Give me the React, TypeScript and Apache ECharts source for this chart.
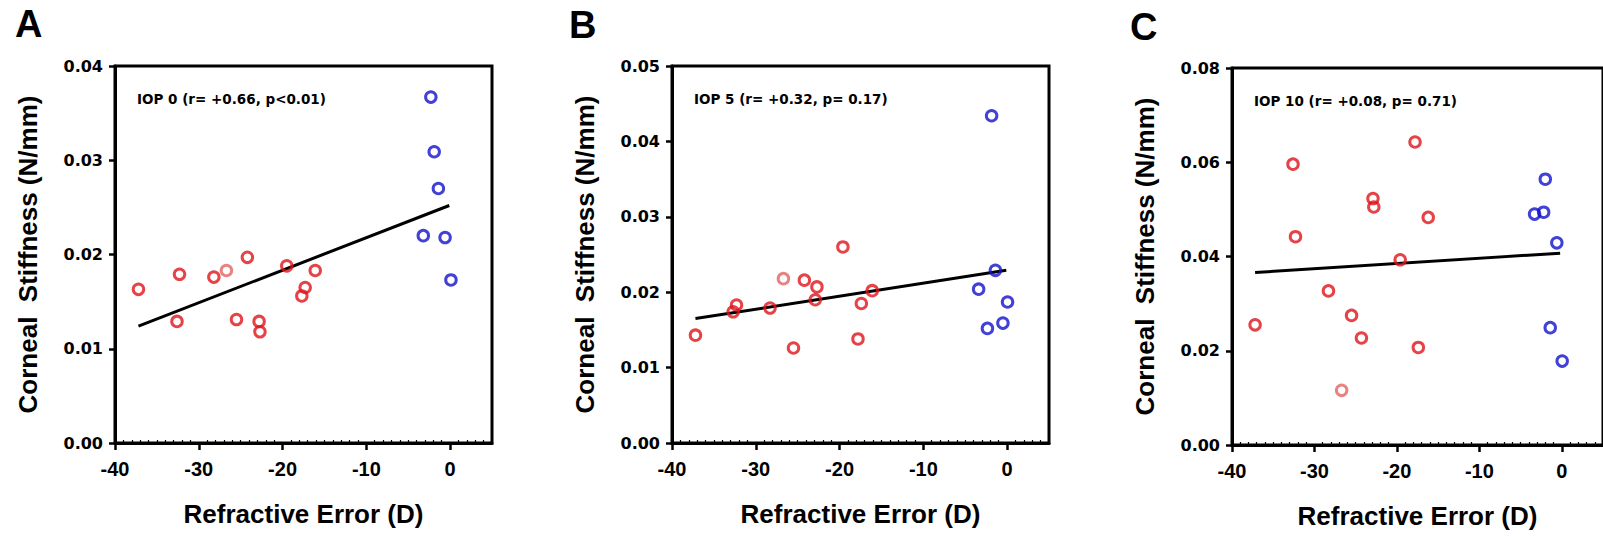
import React, { useEffect, useRef } from "react";
import * as echarts from "echarts";

// ---------- data ----------
const xTickValues = [-40, -30, -20, -10, 0];

// Panel A (IOP 0)
const aRedX = [-37.2, -32.3, -32.6, -28.2, -25.5, -24.2, -22.8, -22.7, -19.5, -17.3, -17.7, -16.1];
const aRedY = [0.0163, 0.0179, 0.0129, 0.0176, 0.0131, 0.0197, 0.0129, 0.0118, 0.0188, 0.0165, 0.0156, 0.0183];
const aLightX = [-26.7];
const aLightY = [0.0183];
const aBlueX = [-2.3, -1.9, -1.4, -3.2, -0.6, 0.1];
const aBlueY = [0.0367, 0.0309, 0.027, 0.022, 0.0218, 0.0173];
const aTrendX = [-37.2, -0.1];
const aTrendY = [0.0124, 0.0252];

// Panel B (IOP 5)
const bRedX = [-37.2, -32.3, -32.7, -28.3, -25.5, -24.2, -22.7, -22.9, -19.6, -17.4, -17.8, -16.1];
const bRedY = [0.0143, 0.0183, 0.0174, 0.0179, 0.0126, 0.0216, 0.0207, 0.019, 0.026, 0.0185, 0.0138, 0.0202];
const bLightX = [-26.7];
const bLightY = [0.0218];
const bBlueX = [-1.85, -1.4, -3.4, 0.05, -0.5, -2.35];
const bBlueY = [0.0434, 0.0229, 0.0204, 0.0187, 0.0159, 0.0152];
const bTrendX = [-37.2, -0.1];
const bTrendY = [0.0165, 0.0229];

// Panel C (IOP 10)
const cRedX = [-37.2, -32.6, -32.3, -28.3, -25.5, -24.3, -22.9, -22.8, -19.6, -17.8, -17.4, -16.2];
const cRedY = [0.0255, 0.0596, 0.0442, 0.0327, 0.0275, 0.0227, 0.0523, 0.0505, 0.0393, 0.0643, 0.0207, 0.0483];
const cLightX = [-26.7];
const cLightY = [0.0116];
const cBlueX = [-2.0, -3.3, -2.2, -0.6, -1.4, 0.05];
const cBlueY = [0.0564, 0.049, 0.0494, 0.0429, 0.0249, 0.0178];
const cTrendX = [-37.2, -0.2];
const cTrendY = [0.0366, 0.0407];

const panelLetters = ["A", "B", "C"];
const annotations = [
  "IOP 0 (r= +0.66, p<0.01)",
  "IOP 5 (r= +0.32, p= 0.17)",
  "IOP 10 (r= +0.08, p= 0.71)",
];
const yMaxes = [0.04, 0.05, 0.08];
const yIntervals = [0.01, 0.01, 0.02];
const xTitle = "Refractive Error (D)";
const yTitle = "Corneal  Stiffness (N/mm)";

// ---------- layout / style ----------
const gridPos = [
  { left: 115, top: 66 },
  { left: 672, top: 66 },
  { left: 1232, top: 68 },
];
const BOX = 377;
const RED = "#e0141c";
const LIGHT = "#e26464";
const BLUE = "#1212cc";
const F_NARROW = "'Liberation Sans', Arial, sans-serif";
const F_WIDE = "'DejaVu Sans', sans-serif";

const zip = (xs: number[], ys: number[]) => xs.map((x, i) => [x, ys[i]]);

const panelData = [
  { red: zip(aRedX, aRedY), light: zip(aLightX, aLightY), blue: zip(aBlueX, aBlueY), trend: zip(aTrendX, aTrendY) },
  { red: zip(bRedX, bRedY), light: zip(bLightX, bLightY), blue: zip(bBlueX, bBlueY), trend: zip(bTrendX, bTrendY) },
  { red: zip(cRedX, cRedY), light: zip(cLightX, cLightY), blue: zip(cBlueX, cBlueY), trend: zip(cTrendX, cTrendY) },
];

function ring(color: string) {
  return {
    symbol: "circle",
    symbolSize: 10.5,
    itemStyle: { color: "rgba(0,0,0,0)", borderColor: color, borderWidth: 3 },
  };
}

export default function App() {
  const ref = useRef<HTMLDivElement>(null);
  useEffect(() => {
    const chart = echarts.init(ref.current!, null, { renderer: "svg" });
    const grids = gridPos.map((g) => ({
      left: g.left,
      top: g.top,
      width: BOX,
      height: BOX,
      show: true,
      borderColor: "#000",
      borderWidth: 3,
      backgroundColor: "rgba(0,0,0,0)",
      containLabel: false,
    }));
    const xAxes = gridPos.map((_, i) => ({
      type: "value",
      gridIndex: i,
      min: -40,
      max: 5,
      interval: 10,
      position: "bottom",
      axisLine: { show: true, onZero: false, lineStyle: { color: "#000", width: 3 } },
      axisTick: { show: true, length: 7, customValues: xTickValues, lineStyle: { color: "#000", width: 2.5 } },
      minorTick: { show: true, splitNumber: 10, length: -3, lineStyle: { color: "#000", width: 1.2 } },
      axisLabel: {
        customValues: xTickValues,
        color: "#000",
        fontFamily: F_NARROW,
        fontWeight: "bold",
        fontSize: 20,
        margin: 16,
      },
      splitLine: { show: false },
      minorSplitLine: { show: false },
      name: xTitle,
      nameLocation: "middle",
      nameGap: 58,
      nameTextStyle: { color: "#000", fontFamily: F_NARROW, fontWeight: "bold", fontSize: 26 },
    }));
    const yAxes = gridPos.map((_, i) => ({
      type: "value",
      gridIndex: i,
      min: 0,
      max: yMaxes[i],
      interval: yIntervals[i],
      position: "left",
      axisLine: { show: true, onZero: false, lineStyle: { color: "#000", width: 3 } },
      axisTick: { show: true, length: 6, lineStyle: { color: "#000", width: 2.5 } },
      axisLabel: {
        color: "#000",
        fontFamily: F_WIDE,
        fontWeight: "bold",
        fontSize: 16,
        margin: 12,
        formatter: (v: number) => v.toFixed(2),
      },
      splitLine: { show: false },
      name: yTitle,
      nameLocation: "middle",
      nameGap: 74,
      nameTextStyle: { color: "#000", fontFamily: F_NARROW, fontWeight: "bold", fontSize: 26 },
    }));
    const series: any[] = [];
    panelData.forEach((p, i) => {
      series.push({
        type: "line",
        xAxisIndex: i,
        yAxisIndex: i,
        data: p.trend,
        symbol: "none",
        lineStyle: { color: "#000", width: 3 },
        silent: true,
        z: 2,
      });
      series.push({ type: "scatter", xAxisIndex: i, yAxisIndex: i, data: p.red, z: 3, ...ring(RED) });
      series.push({ type: "scatter", xAxisIndex: i, yAxisIndex: i, data: p.light, z: 3, ...ring(LIGHT) });
      series.push({ type: "scatter", xAxisIndex: i, yAxisIndex: i, data: p.blue, z: 3, ...ring(BLUE) });
    });
    const letterPos = [
      { x: 15, y: 24 },
      { x: 569, y: 25 },
      { x: 1130, y: 27 },
    ];
    const graphics: any[] = [];
    panelLetters.forEach((t, i) => {
      graphics.push({
        type: "text",
        x: letterPos[i].x,
        y: letterPos[i].y,
        style: {
          text: t,
          fill: "#000",
          font: `bold 38px ${F_NARROW}`,
          verticalAlign: "middle",
        },
      });
      graphics.push({
        type: "text",
        x: gridPos[i].left + 22,
        y: gridPos[i].top + 33,
        style: {
          text: annotations[i],
          fill: "#000",
          font: `bold 13.5px ${F_WIDE}`,
          verticalAlign: "middle",
        },
        z: 10,
      });
    });
    chart.setOption({
      animation: false,
      backgroundColor: "#fff",
      grid: grids,
      xAxis: xAxes,
      yAxis: yAxes,
      series,
      graphic: graphics,
    });
    return () => chart.dispose();
  }, []);
  return (
    <div
      ref={ref}
      style={{ position: "fixed", left: 0, top: 0, width: 1603, height: 537, background: "#fff" }}
    />
  );
}
